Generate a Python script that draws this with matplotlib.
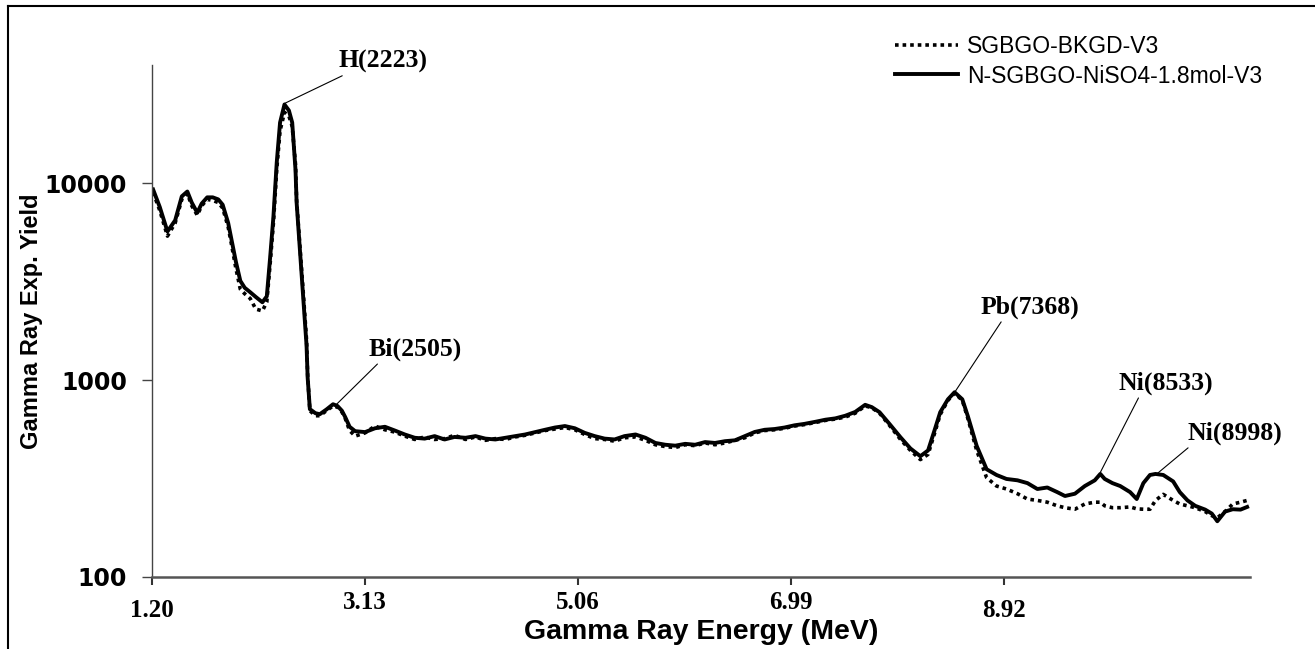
import numpy as np
import matplotlib.pyplot as plt
from matplotlib.lines import Line2D
from matplotlib.transforms import ScaledTranslation
from matplotlib.ticker import FixedLocator, NullLocator, FixedFormatter

# spectrum (x in axis units of the original chart)
energy = [1.21, 1.27, 1.34, 1.41, 1.47, 1.52, 1.56, 1.61, 1.65, 1.70,
          1.75, 1.80, 1.84, 1.89, 1.92, 1.96, 2.00, 2.04, 2.09, 2.14,
          2.20, 2.24, 2.27, 2.30, 2.33, 2.36, 2.40, 2.44, 2.47, 2.50,
          2.51, 2.54, 2.57, 2.60, 2.61, 2.63, 2.68, 2.72, 2.78, 2.84,
          2.88, 2.92, 2.95, 2.99, 3.04,
          3.13, 3.22, 3.31, 3.40, 3.49, 3.58, 3.67, 3.76, 3.85, 3.94,
          4.04, 4.13, 4.22, 4.31, 4.40, 4.49, 4.58, 4.67, 4.76, 4.85,
          4.94, 5.03, 5.12, 5.21, 5.30, 5.39, 5.48, 5.58, 5.67, 5.76,
          5.85, 5.94, 6.03, 6.12, 6.21, 6.30, 6.39, 6.48, 6.57, 6.66,
          6.75, 6.84, 6.93, 7.02, 7.11, 7.21, 7.30, 7.39, 7.48, 7.57,
          7.66, 7.72, 7.79, 7.88, 7.98, 8.07, 8.16, 8.23, 8.29, 8.34,
          8.41, 8.47, 8.54, 8.59, 8.67, 8.76, 8.85, 8.94, 9.04, 9.13,
          9.22, 9.31, 9.40, 9.47, 9.56, 9.65, 9.74, 9.79, 9.83, 9.90,
          9.97, 10.06, 10.12, 10.18, 10.24, 10.29, 10.36, 10.45, 10.51, 10.58,
          10.65, 10.74, 10.80, 10.85, 10.92, 10.99, 11.06, 11.12]

yield_nickel = [9320, 7600, 5700, 6500, 8600, 9100, 8000, 7100, 7900, 8500,
                8500, 8300, 7800, 6300, 5200, 4000, 3200, 2950, 2800, 2650,
                2490, 2670, 4200, 6800, 12800, 20400, 25200, 23500, 20400, 11700,
                8000, 4600, 2600, 1500, 1030, 713, 680, 672, 710, 755,
                740, 700, 650, 580, 551,
                545, 570, 580, 555, 530, 510, 505, 520, 500, 515,
                510, 520, 505, 500, 510, 520, 530, 545, 560, 575,
                585, 570, 540, 520, 505, 500, 520, 530, 510, 480,
                470, 465, 475, 470, 485, 480, 490, 495, 520, 546,
                560, 565, 575, 590, 600, 615, 630, 640, 660, 690,
                750, 730, 688, 600, 513, 450, 411, 440, 560, 688,
                800, 869, 800, 657, 464, 353, 330, 315, 310, 300,
                280, 285, 270, 258, 265, 290, 310, 334, 315, 300,
                290, 270, 249, 300, 330, 334, 330, 306, 270, 245,
                230, 220, 210, 192, 215, 221, 220, 227]

yield_bkgd = [9000, 7300, 5400, 6300, 8300, 8900, 7700, 6900, 7700, 8300,
              8200, 8000, 7500, 6000, 4900, 3700, 2900, 2750, 2600, 2300,
              2250, 2500, 3900, 6300, 11800, 18500, 23000, 22000, 19500, 12500,
              8200, 4800, 2800, 1600, 1060, 700, 660, 660, 700, 740,
              730, 690, 640, 555, 520,
              540, 585, 560, 545, 520, 500, 515, 500, 505, 525,
              500, 515, 495, 505, 500, 515, 525, 540, 555, 565,
              575, 560, 530, 505, 500, 490, 510, 515, 495, 470,
              460, 455, 470, 465, 480, 470, 480, 495, 510, 540,
              555, 560, 570, 585, 595, 610, 625, 635, 650, 680,
              740, 725, 680, 590, 500, 440, 395, 420, 540, 670,
              790, 860, 790, 640, 440, 320, 290, 280, 265, 249,
              245, 240, 230, 225, 221, 235, 240, 240, 230, 225,
              225, 227, 222, 221, 221, 245, 263, 245, 235, 230,
              225, 215, 205, 200, 215, 235, 240, 245]

xticks = [1.20, 3.13, 5.06, 6.99, 8.92]
xtick_labels = ["1.20", "3.13", "5.06", "6.99", "8.92"]
yticks = [100, 1000, 10000]

peaks = ["H(2223)", "Bi(2505)", "Pb(7368)", "Ni(8533)", "Ni(8998)"]
peak_x = [2.40, 2.87, 8.47, 9.79, 10.31]
peak_y = [25500, 753, 867, 340, 337]
label_x = [3.29, 3.58, 9.15, 10.38, 11.01]
label_y = [41700, 1432, 2345, 963, 537]
label_rel = [0.11, 0.13, 0.23, 0.23, 0.04]

fig = plt.figure(figsize=(13.15, 6.49), dpi=100)
ax = fig.add_axes([152 / 1315, 1 - 577 / 649, 1098 / 1315, 512 / 649])

ax.plot(energy, yield_bkgd, color="black", lw=2.6, ls=(0, (1, 1.1)),
        label="SGBGO-BKGD-V3")
ax.plot(energy, yield_nickel, color="black", lw=2.8,
        label="N-SGBGO-NiSO4-1.8mol-V3")

ax.set_yscale("log")
ax.set_xlim(1.2, 11.146)
ax.set_ylim(100, 40000)
ax.yaxis.set_major_locator(FixedLocator(yticks))
ax.yaxis.set_major_formatter(FixedFormatter([str(v) for v in yticks]))
ax.yaxis.set_minor_locator(NullLocator())
ax.set_xticks(xticks)
ax.set_xticklabels(xtick_labels)

for s in ["top", "right"]:
    ax.spines[s].set_visible(False)
ax.spines["left"].set_color("#444444")
ax.spines["left"].set_linewidth(1.0)
ax.spines["bottom"].set_color("#555555")
ax.spines["bottom"].set_linewidth(1.8)

ax.tick_params(axis="y", length=7, width=1, color="#444444", pad=11)
ax.tick_params(axis="x", length=6, width=1.5, color="#333333", pad=4)
for lab in ax.get_yticklabels():
    lab.set_fontfamily("DejaVu Sans")
    lab.set_fontweight("bold")
    lab.set_fontsize(17)
for i, lab in enumerate(ax.get_xticklabels()):
    lab.set_fontfamily("Liberation Serif")
    lab.set_fontweight("bold")
    lab.set_fontsize(18)
    if i in (0, 4):
        lab.set_transform(lab.get_transform() +
                          ScaledTranslation(0, -8 / 100, fig.dpi_scale_trans))

ax.set_xlabel("Gamma Ray Energy (MeV)", fontfamily="Liberation Sans",
              fontweight="bold", fontsize=20.5, labelpad=-2)
ax.set_ylabel("Gamma Ray Exp. Yield", fontfamily="Liberation Sans",
              fontweight="bold", fontsize=17, labelpad=1)

for name, px, py, tx, ty, rel in zip(peaks, peak_x, peak_y, label_x,
                                     label_y, label_rel):
    ax.annotate(name, xy=(px, py), xytext=(tx, ty), ha="center", va="center",
                fontfamily="Liberation Serif", fontweight="bold", fontsize=18.5,
                annotation_clip=False,
                arrowprops=dict(arrowstyle="-", color="black", lw=0.8,
                                relpos=(rel, 0.0), shrinkA=0, shrinkB=0))

fig.legend(loc="upper left", bbox_to_anchor=(874 / 1315, 1 - 14 / 649),
           frameon=False, handlelength=2.75, handletextpad=0.4,
           labelspacing=0.3, prop={"family": "Liberation Sans", "size": 16.5})

# outer frame of the original figure
fig.add_artist(Line2D([8 / 1315, 8 / 1315], [0, 1 - 6 / 649],
                      transform=fig.transFigure, color="black", lw=1.5))
fig.add_artist(Line2D([8 / 1315, 1], [1 - 6 / 649, 1 - 6 / 649],
                      transform=fig.transFigure, color="black", lw=1.5))

fig.savefig("out.png", dpi=100)
